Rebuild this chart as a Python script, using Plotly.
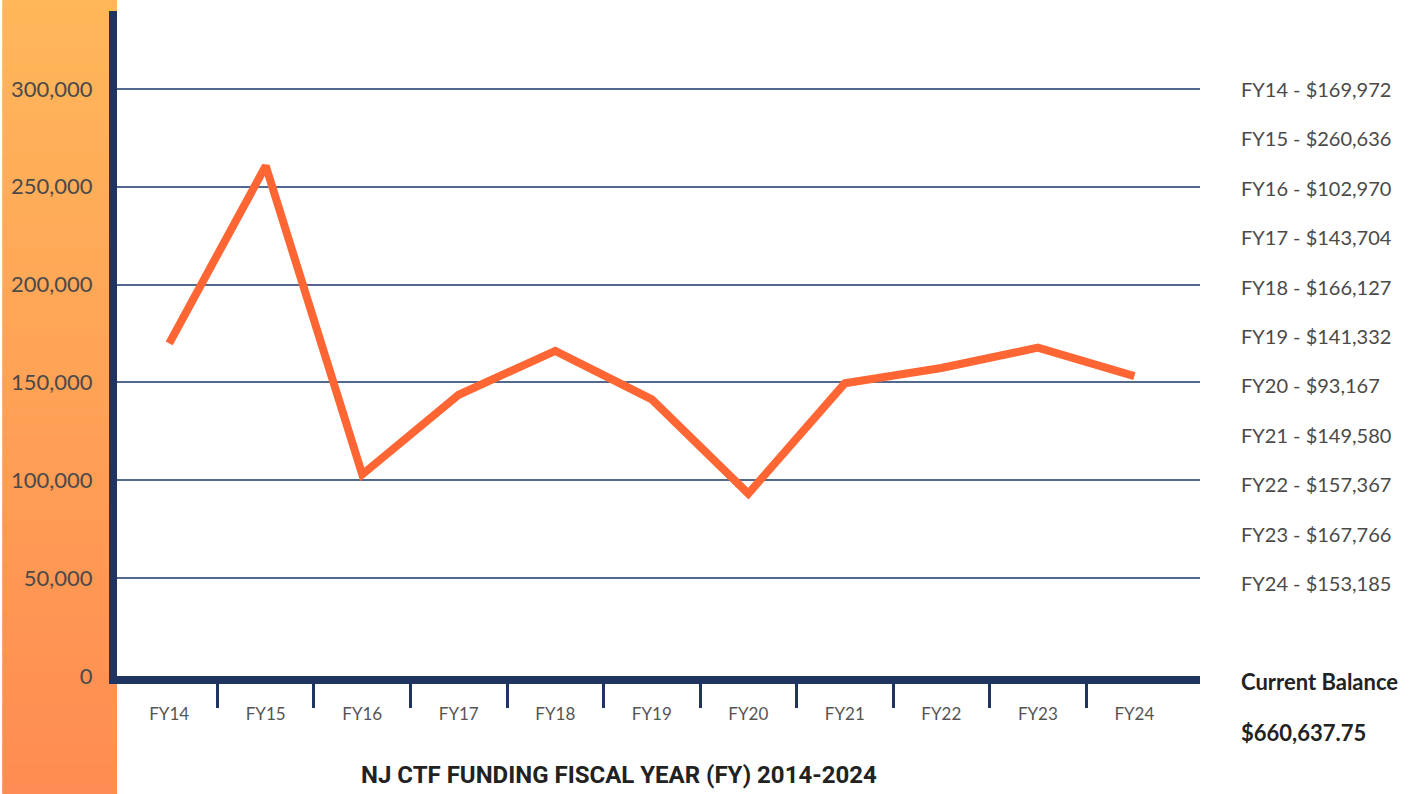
import plotly.graph_objects as go

years = ["FY14", "FY15", "FY16", "FY17", "FY18", "FY19", "FY20", "FY21", "FY22", "FY23", "FY24"]
funding = [169972, 260636, 102970, 143704, 166127, 141332, 93167, 149580, 157367, 167766, 153185]
y_ticks = [0, 50000, 100000, 150000, 200000, 250000, 300000]
y_ticktext = ["0", "50,000", "100,000", "150,000", "200,000", "250,000", "300,000"]
legend_lines = ["FY14 - $169,972", "FY15 - $260,636", "FY16 - $102,970", "FY17 - $143,704",
                "FY18 - $166,127", "FY19 - $141,332", "FY20 - $93,167", "FY21 - $149,580",
                "FY22 - $157,367", "FY23 - $167,766", "FY24 - $153,185"]
balance_label = "Current Balance"
balance_value = "$660,637.75"
title_text = "NJ CTF FUNDING FISCAL YEAR (FY) 2014-2024"

W, H = 1423, 794
L, R, T, B = 115, 223, 11, 118
PW = W - L - R
PH = H - T - B

def px_x(x):
    return (x - L) / PW

def px_y(y):
    return (H - B - y) / PH

NAVY = "#1f3461"
GRID = "#52688f"
TEXT = "#4a4a4a"
FONT = "Lato, 'Open Sans', sans-serif"

xi = list(range(len(years)))

fig = go.Figure()
fig.add_trace(go.Scatter(
    x=xi, y=funding, mode="lines",
    line=dict(color="#FF6633", width=8, shape="linear"),
    hoverinfo="skip", showlegend=False,
))
# invisible trace to activate overlay axis for tick marks
fig.add_trace(go.Scatter(x=[xi[0]], y=[0], xaxis="x2", mode="markers",
                         marker=dict(opacity=0), hoverinfo="skip", showlegend=False))

xrange = [-0.541, 10.68]

# gradient strip on the left
n = 80
top_c = (255, 183, 90)
bot_c = (255, 140, 82)
y0p, y1p = px_y(H), px_y(0)
shapes = []
for i in range(n):
    t = i / (n - 1)
    c = tuple(int(round(top_c[k] + (bot_c[k] - top_c[k]) * t)) for k in range(3))
    ya = y1p - (y1p - y0p) * i / n
    yb = y1p - (y1p - y0p) * (i + 1) / n
    shapes.append(dict(type="rect", xref="paper", yref="paper",
                       x0=px_x(0), x1=px_x(115), y0=yb - 0.001, y1=ya + 0.001,
                       fillcolor="rgb(%d,%d,%d)" % c, line=dict(width=0), layer="below"))

annotations = []
for i, s in enumerate(legend_lines):
    annotations.append(dict(text=s, xref="paper", yref="paper",
                            x=px_x(1239), y=px_y(89 + i * 49.4),
                            xanchor="left", yanchor="middle", showarrow=False,
                            font=dict(family=FONT, size=20, color=TEXT)))
annotations.append(dict(text="<b>" + balance_label + "</b>", xref="paper", yref="paper",
                        x=px_x(1239), y=px_y(681), xanchor="left", yanchor="middle",
                        showarrow=False, font=dict(family=FONT, size=22, color="#222222")))
annotations.append(dict(text="<b>" + balance_value + "</b>", xref="paper", yref="paper",
                        x=px_x(1239), y=px_y(732), xanchor="left", yanchor="middle",
                        showarrow=False, font=dict(family=FONT, size=22, color="#222222")))
annotations.append(dict(text="<b>" + title_text + "</b>", xref="paper", yref="paper",
                        x=px_x(618), y=px_y(775), xanchor="center", yanchor="middle",
                        showarrow=False,
                        font=dict(family="Roboto, sans-serif", size=24, color="#222222")))

fig.update_layout(
    width=W, height=H,
    margin=dict(l=L, r=R, t=T, b=B),
    paper_bgcolor="white", plot_bgcolor="white",
    shapes=shapes, annotations=annotations,
    xaxis=dict(range=xrange, tickmode="array", tickvals=xi, ticktext=years,
               showgrid=False, zeroline=False, showline=True, linecolor=NAVY, linewidth=8,
               ticks="", tickfont=dict(family=FONT, size=17, color="#555555"),
               ticklabelstandoff=16, fixedrange=True),
    xaxis2=dict(range=xrange, overlaying="x", side="bottom", tickmode="array",
                tickvals=[i + 0.5 for i in xi[:-1]], showticklabels=False,
                ticks="outside", ticklen=31, tickwidth=3, tickcolor=NAVY,
                showgrid=False, zeroline=False, showline=False),
    yaxis=dict(range=[0, 339800], tickmode="array", tickvals=y_ticks, ticktext=y_ticktext,
               showgrid=True, gridcolor=GRID, gridwidth=1.5, zeroline=False,
               showline=True, linecolor=NAVY, linewidth=8, ticks="",
               tickfont=dict(family=FONT, size=22, color=TEXT), ticklabelstandoff=12,
               fixedrange=True),
)

fig.write_html("out.html", config={"displayModeBar": False},
               post_script="document.body.style.margin='0';document.body.style.overflow='hidden';")
